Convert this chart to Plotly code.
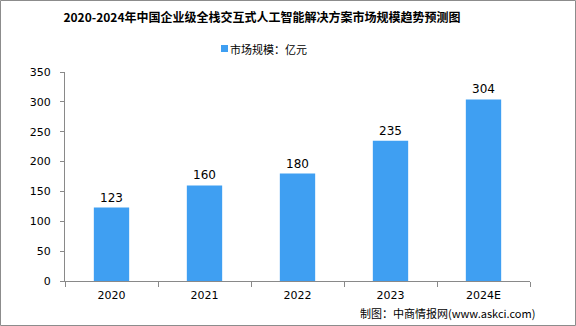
import plotly.graph_objects as go

categories = ["2020", "2021", "2022", "2023", "2024E"]
values = [123, 160, 180, 235, 304]
series_name = "市场规模：亿元"
title_text = "2020-2024年中国企业级全栈交互式人工智能解决方案市场规模趋势预测图"
source_text = "制图：中商情报网(www.askci.com)"

L, R, T, B = 65, 46, 72, 45
W, H = 576, 326
pw, ph = W - L - R, H - T - B
bar_color = "#3f9ff2"

def px_x(x):
    return (x - L) / pw

def px_y(y):
    return (H - B - y) / ph

fig = go.Figure()
fig.add_trace(go.Bar(
    x=categories, y=values, name=series_name,
    marker=dict(color=bar_color, line=dict(width=0)),
    text=[str(v) for v in values], textposition="outside",
    textfont=dict(size=12, color="#000000", family="DejaVu Sans"),
    cliponaxis=False, showlegend=False,
))

fig.update_layout(
    width=W, height=H,
    margin=dict(l=L, r=R, t=T, b=B),
    paper_bgcolor="white", plot_bgcolor="white",
    bargap=0.62,
    title=dict(text="<b>" + title_text + "</b>", x=262 / W, xanchor="center",
               y=1 - 18 / H, yanchor="middle",
               font=dict(size=12, color="#000000", family="Noto Sans CJK SC")),
    font=dict(family="DejaVu Sans", color="#000000"),
    xaxis=dict(showline=True, linecolor="#898989", linewidth=1,
               ticks="outside", tickson="boundaries", ticklen=5, tickcolor="#898989",
               ticklabelstandoff=4,
               tickfont=dict(size=11, color="#000000"), showgrid=False),
    yaxis=dict(range=[0, 350], dtick=50, showline=True, linecolor="#898989", linewidth=1,
               ticks="outside", ticklen=4, tickcolor="#898989",
               ticklabelstandoff=7,
               tickfont=dict(size=11, color="#000000"), showgrid=False, zeroline=False),
)

# legend (small square + label)
fig.add_shape(type="rect", xref="paper", yref="paper",
              x0=px_x(221), x1=px_x(228), y0=px_y(52), y1=px_y(45),
              line=dict(width=0), fillcolor=bar_color)
fig.add_annotation(text=series_name, xref="paper", yref="paper",
                   x=px_x(228), xanchor="left", y=px_y(49), yanchor="middle",
                   showarrow=False,
                   font=dict(size=11, color="#000000", family="Noto Sans CJK SC"))

fig.add_annotation(text=source_text, xref="paper", yref="paper",
                   x=px_x(537), xanchor="right",
                   y=px_y(313), yanchor="middle", showarrow=False,
                   font=dict(size=11, color="#000000", family="Noto Sans CJK SC"))

fig.add_shape(type="rect", xref="paper", yref="paper",
              x0=px_x(0.5), x1=px_x(W - 0.5),
              y0=px_y(H - 0.5), y1=px_y(0.5),
              line=dict(color="#8c8c8c", width=1), fillcolor="rgba(0,0,0,0)", layer="below")

fig.write_html("out.html")
